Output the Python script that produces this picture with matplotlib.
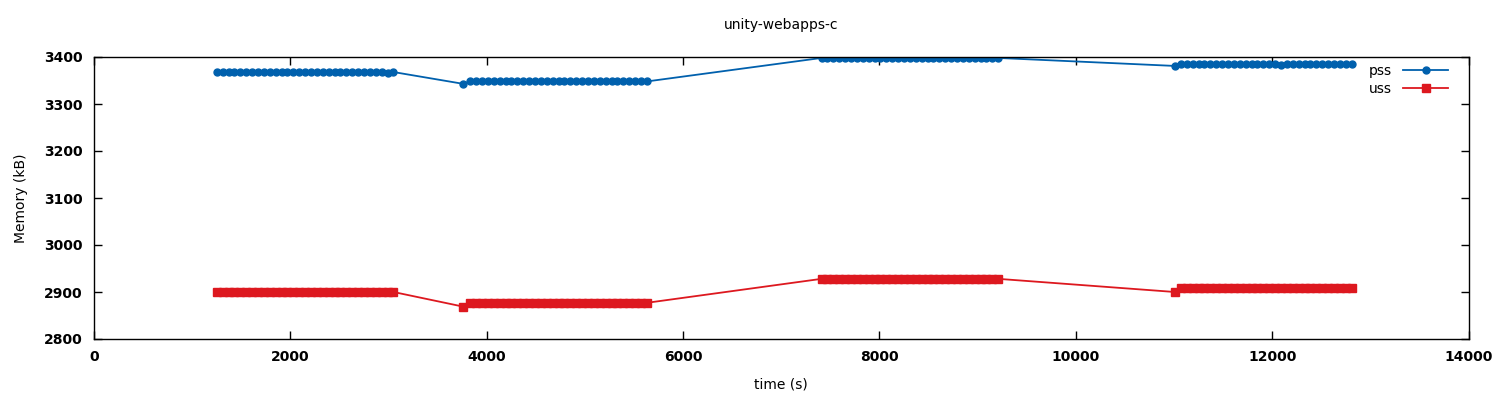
"""Memory usage (pss / uss) over time for unity-webapps-c."""

import matplotlib
matplotlib.use("Agg")
import matplotlib.pyplot as plt
from matplotlib.ticker import MultipleLocator

# Sample times (s), four sampling runs
t_run1 = [1250, 1310, 1370, 1430, 1490, 1550, 1610, 1670, 1730, 1790, 1850,
          1910, 1970, 2030, 2090, 2150, 2210, 2270, 2330, 2390, 2450, 2510,
          2570, 2630, 2690, 2750, 2810, 2870, 2930, 2990, 3050]
t_run2 = [3757, 3831, 3891, 3951, 4011, 4071, 4131, 4191, 4251, 4311, 4371,
          4431, 4491, 4551, 4611, 4671, 4731, 4791, 4851, 4911, 4971, 5031,
          5091, 5151, 5211, 5271, 5331, 5391, 5451, 5511, 5571, 5631]
t_run3 = [7410, 7470, 7530, 7590, 7650, 7710, 7770, 7830, 7890, 7950, 8010,
          8070, 8130, 8190, 8250, 8310, 8370, 8430, 8490, 8550, 8610, 8670,
          8730, 8790, 8850, 8910, 8970, 9030, 9090, 9150, 9210]
t_run4 = [11008, 11070, 11130, 11190, 11250, 11310, 11370, 11430, 11490,
          11550, 11610, 11670, 11730, 11790, 11850, 11910, 11970, 12030,
          12090, 12150, 12210, 12270, 12330, 12390, 12450, 12510, 12570,
          12630, 12690, 12750, 12810]

# pss (kB)
pss_run1 = [3368] * 29 + [3366, 3368]
pss_run2 = [3343] + [3348] * 31
pss_run3 = [3398] * 31
pss_run4 = [3381] + [3386] * 17 + [3382] + [3386] * 12

# uss (kB)
uss_run1 = [2900] * 31
uss_run2 = [2869] + [2877] * 31
uss_run3 = [2928] * 31
uss_run4 = [2900] + [2909] * 30

times = t_run1 + t_run2 + t_run3 + t_run4
pss = pss_run1 + pss_run2 + pss_run3 + pss_run4
uss = uss_run1 + uss_run2 + uss_run3 + uss_run4

PSS_COLOR = "#0060ad"
USS_COLOR = "#dd181f"

fig = plt.figure(figsize=(15, 4), dpi=100)
ax = fig.add_axes([0.0627, 0.1525, 0.9163, 0.705])

ax.plot(times, pss, color=PSS_COLOR, lw=1.3, marker="o", ms=5,
        mec=PSS_COLOR, mfc=PSS_COLOR, label="pss")
ax.plot(times, uss, color=USS_COLOR, lw=1.3, marker="s", ms=5.5,
        mec=USS_COLOR, mfc=USS_COLOR, label="uss")

ax.set_xlim(0, 14000)
ax.set_ylim(2800, 3400)
ax.xaxis.set_major_locator(MultipleLocator(2000))
ax.yaxis.set_major_locator(MultipleLocator(100))
ax.tick_params(direction="in", top=True, right=True, length=6, width=1,
               labelsize=10, pad=8)
for lbl in ax.get_xticklabels() + ax.get_yticklabels():
    lbl.set_fontweight("bold")
for sp in ax.spines.values():
    sp.set_linewidth(1)

ax.set_title("unity-webapps-c", fontsize=10, pad=20)
ax.set_xlabel("time (s)", fontsize=10, labelpad=10)
ax.set_ylabel("Memory (kB)", fontsize=10, labelpad=12)

ax.legend(loc="upper right", frameon=False, markerfirst=False,
          fontsize=10, handlelength=3.2, borderaxespad=0.1,
          labelspacing=0.3, bbox_to_anchor=(0.990, 1.0))

fig.savefig("out.png", dpi=100)
